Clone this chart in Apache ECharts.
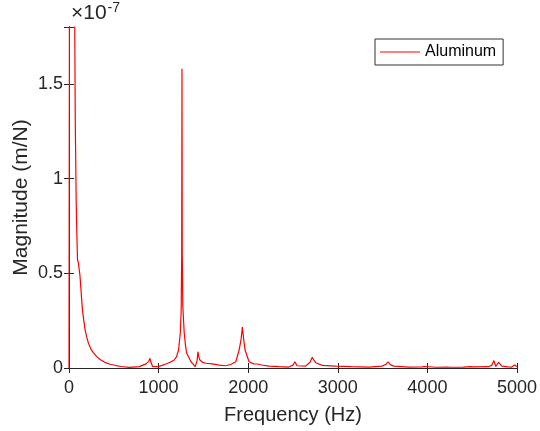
<!DOCTYPE html>
<html>
<head>
<meta charset="utf-8">
<script src="https://cdn.jsdelivr.net/npm/echarts@6/dist/echarts.min.js"></script>
<style>
html,body{margin:0;padding:0;background:#fff;}
#chart{width:540px;height:431px;}
</style>
</head>
<body>
<div id="chart"></div>
<script>
// Frequency (Hz)
const freq = [0, 10, 40, 62, 70, 80, 87, 95, 105, 113, 122, 131, 140, 150, 165, 180, 200, 217, 245, 273, 310, 347, 400, 459, 525, 585, 674, 785, 860, 890, 904, 915, 933, 952, 989, 1040, 1082, 1130, 1175, 1200, 1223, 1242, 1252, 1258, 1261, 1264, 1270, 1286, 1300, 1312, 1361, 1390, 1409, 1418, 1430, 1439, 1448, 1461, 1490, 1528, 1600, 1676, 1750, 1810, 1862, 1899, 1920, 1935, 1950, 1965, 2010, 2060, 2102, 2150, 2233, 2344, 2455, 2500, 2522, 2545, 2567, 2641, 2690, 2715, 2735, 2753, 2827, 2975, 3150, 3346, 3494, 3540, 3561, 3585, 3625, 3792, 3940, 3952, 3960, 3968, 4100, 4220, 4237, 4260, 4400, 4480, 4493, 4510, 4683, 4720, 4742, 4764, 4794, 4831, 4900, 4942, 4972, 5000];
// Magnitude (x1e-7 m/N)
const magnitude = [0, 4.0, 6.0, 2.0, 1.3, 0.89, 0.715, 0.57, 0.555, 0.546, 0.49, 0.43, 0.37, 0.307, 0.25, 0.20, 0.16, 0.13, 0.10, 0.08, 0.06, 0.045, 0.03, 0.02, 0.013, 0.008, 0.003, 0.007, 0.022, 0.035, 0.051, 0.03, 0.008, 0.0, 0.007, 0.014, 0.021, 0.03, 0.042, 0.06, 0.095, 0.185, 0.3, 0.6, 1.58, 0.6, 0.33, 0.185, 0.12, 0.08, 0.033, 0.018, 0.007, 0.005, 0.04, 0.086, 0.06, 0.042, 0.03, 0.025, 0.022, 0.015, 0.012, 0.02, 0.033, 0.095, 0.15, 0.216, 0.15, 0.095, 0.033, 0.022, 0.021, 0.016, 0.01, 0.007, 0.005, 0.015, 0.033, 0.012, 0.004, 0.01, 0.03, 0.057, 0.04, 0.028, 0.014, 0.01, 0.007, 0.005, 0.01, 0.02, 0.033, 0.018, 0.01, 0.005, 0.006, 0.009, 0.004, 0.008, 0.004, 0.005, 0.008, 0.004, 0.005, 0.007, 0.009, 0.006, 0.007, 0.015, 0.039, 0.008, 0.03, 0.01, 0.006, 0.005, 0.016, 0.008];
const xTicks = [0, 1000, 2000, 3000, 4000, 5000];
const yTicks = [0, 0.5, 1, 1.5];
const seriesName = 'Aluminum';
const xTitle = 'Frequency (Hz)';
const yTitle = 'Magnitude (m/N)';

const font = 'Liberation Sans, Arial, Helvetica, sans-serif';
const axisColor = '#262626';
const chart = echarts.init(document.getElementById('chart'), null, {renderer: 'canvas'});
const data = freq.map((f, i) => [f, magnitude[i]]);

const baseTick = {show: true, inside: true, length: 5, lineStyle: {color: axisColor, width: 1}};
chart.setOption({
  animation: false,
  backgroundColor: '#fff',
  grid: {left: 69, right: 23, top: 27, bottom: 63, containLabel: false},
  legend: {
    data: [seriesName], left: 375, top: 39, padding: [5, 7, 5, 5],
    icon: 'rect', itemWidth: 40, itemHeight: 1.2, borderColor: '#333', borderWidth: 1,
    backgroundColor: '#fff',
    textStyle: {fontFamily: font, fontSize: 16, color: '#000'}
  },
  graphic: [{
    type: 'text', left: 71, top: 1,
    style: {
      text: '×10{s|-7}', fontFamily: font, fontSize: 21, fill: axisColor,
      rich: {s: {fontFamily: font, fontSize: 14, verticalAlign: 'top', padding: [0, 0, 11, 1], fill: axisColor}}
    }
  }],
  xAxis: [{
    type: 'value', min: xTicks[0], max: xTicks[xTicks.length - 1], interval: 1000,
    position: 'bottom', z: 3,
    name: xTitle, nameLocation: 'middle', nameGap: 37, nameMoveOverlap: false,
    nameTextStyle: {fontFamily: font, fontSize: 20, color: axisColor},
    axisLine: {show: true, lineStyle: {color: axisColor, width: 1}},
    axisTick: baseTick,
    axisLabel: {fontFamily: font, fontSize: 18, color: axisColor, margin: 11,
      formatter: v => String(v)},
    splitLine: {show: false}
  }, {
    type: 'value', min: xTicks[0], max: xTicks[xTicks.length - 1], interval: 1000,
    position: 'top', z: 3,
    axisLine: {show: true, lineStyle: {color: axisColor, width: 1}},
    axisTick: baseTick, axisLabel: {show: false}, splitLine: {show: false}
  }],
  yAxis: [{
    type: 'value', min: 0, max: 1.8, interval: 0.5, z: 3,
    name: yTitle, nameLocation: 'middle', nameGap: 37, nameMoveOverlap: false,
    nameTextStyle: {fontFamily: font, fontSize: 21, color: axisColor},
    axisLine: {show: true, lineStyle: {color: axisColor, width: 1}},
    axisTick: baseTick,
    axisLabel: {fontFamily: font, fontSize: 18, color: axisColor, margin: 6,
      formatter: v => (yTicks.indexOf(v) >= 0 ? String(v) : '')},
    splitLine: {show: false}
  }, {
    type: 'value', min: 0, max: 1.8, interval: 0.5, position: 'right', z: 3,
    axisLine: {show: true, lineStyle: {color: axisColor, width: 1}},
    axisTick: baseTick, axisLabel: {show: false}, splitLine: {show: false}
  }],
  series: [{
    name: seriesName, type: 'line', data: data, symbol: 'none', clip: true,
    xAxisIndex: 0, yAxisIndex: 0,
    lineStyle: {color: '#ff0000', width: 1.2}, itemStyle: {color: '#ff0000'}
  }]
});
</script>
</body>
</html>
